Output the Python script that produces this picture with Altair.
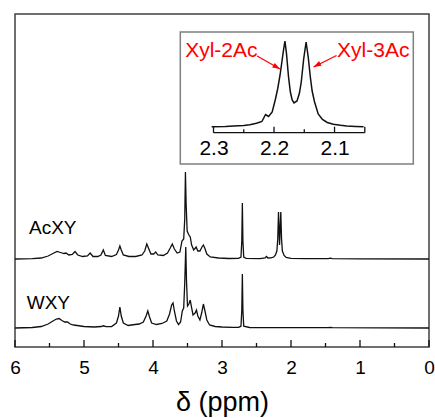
import altair as alt
import pandas as pd

# ---------------- data ----------------
sample_names = ["AcXY", "WXY"]

acxy_ppm = [6.0, 5.75, 5.62, 5.52, 5.45, 5.39, 5.34, 5.29, 5.26, 5.22, 5.17, 5.13, 5.09, 5.02,
            4.95, 4.91, 4.87, 4.80, 4.755, 4.72, 4.69, 4.6, 4.53, 4.5, 4.48, 4.46, 4.43, 4.35,
            4.25, 4.16, 4.12, 4.09, 4.06, 4.03, 3.99, 3.96, 3.93, 3.85, 3.79, 3.75, 3.72, 3.69,
            3.65, 3.61, 3.58, 3.555, 3.54, 3.53, 3.52, 3.505, 3.48, 3.46, 3.44, 3.41, 3.375,
            3.35, 3.32, 3.29, 3.27, 3.25, 3.22, 3.17, 3.05, 2.9, 2.76, 2.725, 2.713, 2.705,
            2.697, 2.685, 2.65, 2.45, 2.375, 2.355, 2.335, 2.29, 2.25, 2.225, 2.205, 2.192,
            2.181, 2.166, 2.148, 2.137, 2.125, 2.10, 2.07, 2.0, 1.8, 1.46, 1.43, 1.40, 1.0, 0.0]
acxy_int = [0, 0.3, 1, 3, 5.5, 7.5, 6.5, 5.5, 6, 4, 4.5, 7.5, 4, 2.5,
            3, 6, 2.5, 2.5, 4, 9, 3.5, 2.5, 4.5, 9, 13, 9, 4, 2.5,
            2.5, 4, 8, 15, 10, 5, 5, 7, 4, 3.5, 6, 11, 15, 10,
            6, 7, 18, 20, 40, 87, 55, 28, 24, 22, 14, 9, 12,
            8, 8, 12, 14, 11, 5, 2, 1, 0.5, 0.6, 1.8, 18, 56,
            18, 1.8, 0.6, 0.4, 1.2, 2.5, 1, 1.2, 2, 4, 8, 20,
            47, 14, 47, 20, 8, 3.5, 1.5, 0.7, 0.4, 0.4, 0.9, 0.4, 0.2, 0]

wxy_ppm = [6.0, 5.75, 5.62, 5.52, 5.45, 5.4, 5.36, 5.32, 5.28, 5.24, 5.2, 5.15, 5.1, 5.0,
           4.85, 4.75, 4.72, 4.68, 4.6, 4.53, 4.5, 4.48, 4.46, 4.43, 4.36, 4.26, 4.2, 4.14,
           4.1, 4.075, 4.05, 4.02, 3.95, 3.87, 3.8, 3.76, 3.73, 3.71, 3.69, 3.66, 3.63, 3.6,
           3.575, 3.555, 3.54, 3.525, 3.515, 3.50, 3.48, 3.46, 3.44, 3.42, 3.39, 3.37, 3.35,
           3.32, 3.295, 3.27, 3.25, 3.22, 3.18, 3.1, 3.0, 2.85, 2.76, 2.725, 2.713, 2.705,
           2.697, 2.685, 2.6, 2.3, 2.0, 1.46, 1.43, 1.40, 0.0]
wxy_int = [0, 0.5, 1.5, 4, 7, 9, 9.5, 7.5, 6, 6, 4, 3, 2.5, 1.5,
           1, 1.5, 2.2, 1.3, 1.5, 5, 12, 21, 12, 5, 2.5, 3.5, 4, 6,
           12, 17, 11, 5, 3.5, 4.5, 7, 14, 23, 25, 17, 7, 3.5, 6,
           17, 20, 45, 81, 48, 22, 24, 28, 20, 13, 15, 18, 12,
           8, 15, 24, 18, 8, 3, 1.5, 1, 0.6, 0.7, 1.8, 18, 54,
           18, 1.8, 0.5, 0.4, 0.3, 0.3, 0.7, 0.3, 0]

label_ppm = [5.797, 5.83]
label_int = [94, 18.7]

main_major_ticks = [0, 1, 2, 3, 4, 5, 6]
main_minor_ticks = [0.5, 1.5, 2.5, 3.5, 4.5, 5.5]

inset_ppm = [2.303, 2.28, 2.267, 2.25, 2.24, 2.229, 2.22, 2.214, 2.209, 2.203, 2.198, 2.194,
             2.19, 2.185, 2.182, 2.1795, 2.176, 2.173, 2.17, 2.167, 2.162, 2.158, 2.155, 2.151,
             2.147, 2.1435, 2.14, 2.137, 2.133, 2.127, 2.12, 2.112, 2.102, 2.09, 2.08, 2.065, 2.052]
inset_int = [0.3, 0.6, 1, 1.6, 2.2, 3.7, 5.5, 12.5, 10.5, 15, 27, 38,
             52, 74, 86, 74, 50, 35, 27, 24, 26, 34, 45, 68,
             85, 70, 50, 36, 25, 13, 7.5, 4.5, 2.7, 1.7, 1.1, 0.6, 0.3]

inset_labels = [2.3, 2.2, 2.1]
inset_major_ticks = [2.3, 2.2, 2.1, 2.05]
inset_minor_ticks = [2.25, 2.15]

annot_text = ["Xyl-2Ac", "Xyl-3Ac"]
annot_ppm = [2.287, 2.036]
annot_int = [70, 70]
arrow_start_ppm = [2.228, 2.0967]
arrow_start_int = [71, 71.5]
arrow_end_ppm = [2.190, 2.1347]
arrow_end_int = [58, 60]
arrow_angle = [119.5, 242.5]

# ---------------- styling / layout ----------------
FONT = "Liberation Sans"
W, H = 414, 333
ACXY_OFFSET = 69
INSET_AXIS_Y = 118.7
RED = "#ff0000"
INK = "#111111"

main_x = alt.Scale(domain=[0, 6], reverse=True, nice=False, zero=False)
main_y = alt.Scale(domain=[-19, 314], nice=False, zero=False)
x_axis = alt.Axis(values=main_major_ticks, format="d", ticks=False, domain=False, grid=False,
                  labelFont=FONT, labelFontSize=19, labelColor="black", labelPadding=11,
                  labelFlush=False, title="δ (ppm)", titleFont=FONT, titleFontSize=27,
                  titleFontWeight="normal", titleColor="black", titleY=63,
                  titleBaseline="alphabetic")

inset_x = alt.Scale(domain=[2.05, 2.3], range=[349.8, 198.5], nice=False, zero=False)
inset_y = alt.Scale(domain=[0, 86], range=[113, 27], nice=False, zero=False)
inset_axis = alt.Axis(values=inset_labels, format=".1f", ticks=False, domain=False, grid=False,
                      orient="bottom", offset=-(H - INSET_AXIS_Y), labelFont=FONT,
                      labelFontSize=21, labelColor="black", labelPadding=5, labelFlush=False,
                      title=None, zindex=2)

spec_df = pd.concat([
    pd.DataFrame({"ppm": acxy_ppm, "intensity": acxy_int, "sample": sample_names[0]}),
    pd.DataFrame({"ppm": wxy_ppm, "intensity": wxy_int, "sample": sample_names[1]}),
], ignore_index=True)

spectra = alt.Chart(spec_df).transform_calculate(
    ypos=f"datum.intensity + (datum.sample == '{sample_names[0]}' ? {ACXY_OFFSET} : 0)"
).mark_line(color=INK, strokeWidth=1.3).encode(
    x=alt.X("ppm:Q", scale=main_x, axis=x_axis),
    y=alt.Y("ypos:Q", scale=main_y, axis=None),
    detail="sample:N",
)

major_ticks = alt.Chart(pd.DataFrame({"ppm": main_major_ticks})).mark_rule(
    color=INK, strokeWidth=1.3).encode(
    x=alt.X("ppm:Q", scale=main_x, axis=x_axis), y=alt.value(H - 7), y2=alt.value(H))
minor_ticks = alt.Chart(pd.DataFrame({"ppm": main_minor_ticks})).mark_rule(
    color=INK, strokeWidth=1.3).encode(
    x=alt.X("ppm:Q", scale=main_x, axis=x_axis), y=alt.value(H - 4), y2=alt.value(H))

sample_labels = alt.Chart(pd.DataFrame({"ppm": label_ppm, "intensity": label_int,
                                        "text": sample_names})).mark_text(
    align="left", baseline="alphabetic", font=FONT, fontSize=19, color="black").encode(
    x=alt.X("ppm:Q", scale=main_x, axis=x_axis),
    y=alt.Y("intensity:Q", scale=main_y, axis=None),
    text="text:N",
)

main = alt.layer(spectra, major_ticks, minor_ticks, sample_labels)

# ---------------- inset ----------------
frame = alt.Chart(pd.DataFrame({"a": [0]})).mark_rect(
    fill="white", stroke="#7f7f7f", strokeWidth=1.5).encode(
    x=alt.value(165.3), x2=alt.value(398.3), y=alt.value(18), y2=alt.value(150))

inset_line = alt.Chart(pd.DataFrame({"ppm": inset_ppm, "intensity": inset_int})).mark_line(
    color=INK, strokeWidth=1.5).encode(
    x=alt.X("ppm:Q", scale=inset_x, axis=inset_axis),
    y=alt.Y("intensity:Q", scale=inset_y, axis=None),
)

inset_base = alt.Chart(pd.DataFrame({"a": [inset_major_ticks[0]],
                                     "b": [inset_major_ticks[-1]]})).mark_rule(
    color=INK, strokeWidth=1.3).encode(
    x=alt.X("a:Q", scale=inset_x, axis=inset_axis), x2="b:Q", y=alt.value(INSET_AXIS_Y))
inset_major = alt.Chart(pd.DataFrame({"ppm": inset_major_ticks})).mark_rule(
    color=INK, strokeWidth=1.3).encode(
    x=alt.X("ppm:Q", scale=inset_x, axis=inset_axis),
    y=alt.value(INSET_AXIS_Y - 6), y2=alt.value(INSET_AXIS_Y))
inset_minor = alt.Chart(pd.DataFrame({"ppm": inset_minor_ticks})).mark_rule(
    color=INK, strokeWidth=1.3).encode(
    x=alt.X("ppm:Q", scale=inset_x, axis=inset_axis),
    y=alt.value(INSET_AXIS_Y - 3.5), y2=alt.value(INSET_AXIS_Y))

arrow_df = pd.DataFrame({"x0": arrow_start_ppm, "y0": arrow_start_int,
                         "x1": arrow_end_ppm, "y1": arrow_end_int, "angle": arrow_angle})
arrows = alt.Chart(arrow_df).mark_rule(color=RED, strokeWidth=1.2).encode(
    x=alt.X("x0:Q", scale=inset_x, axis=inset_axis),
    y=alt.Y("y0:Q", scale=inset_y, axis=None),
    x2="x1:Q", y2="y1:Q",
)
heads = alt.Chart(arrow_df).mark_point(
    shape="M0,0L-0.6,1.7L0.6,1.7Z", filled=True, color=RED, opacity=1, size=80,
    strokeWidth=0).encode(
    x=alt.X("x1:Q", scale=inset_x, axis=inset_axis),
    y=alt.Y("y1:Q", scale=inset_y, axis=None),
    angle=alt.Angle("angle:Q", scale=None),
)
annots = alt.Chart(pd.DataFrame({"ppm": annot_ppm, "intensity": annot_int,
                                 "text": annot_text})).mark_text(
    align="center", baseline="alphabetic", font=FONT, fontSize=21, color=RED).encode(
    x=alt.X("ppm:Q", scale=inset_x, axis=inset_axis),
    y=alt.Y("intensity:Q", scale=inset_y, axis=None),
    text="text:N",
)

inset = alt.layer(frame, inset_line, inset_base, inset_major, inset_minor, arrows, heads, annots)

chart = alt.layer(main, inset).resolve_scale(
    x="independent", y="independent"
).properties(
    width=W, height=H,
    autosize=alt.AutoSizeParams(type="none"),
    padding={"left": 15, "top": 14, "right": 6, "bottom": 71},
).configure_view(stroke="#404040", strokeWidth=1.5)

chart.save("out.html", embed_options={"renderer": "svg", "actions": False})
